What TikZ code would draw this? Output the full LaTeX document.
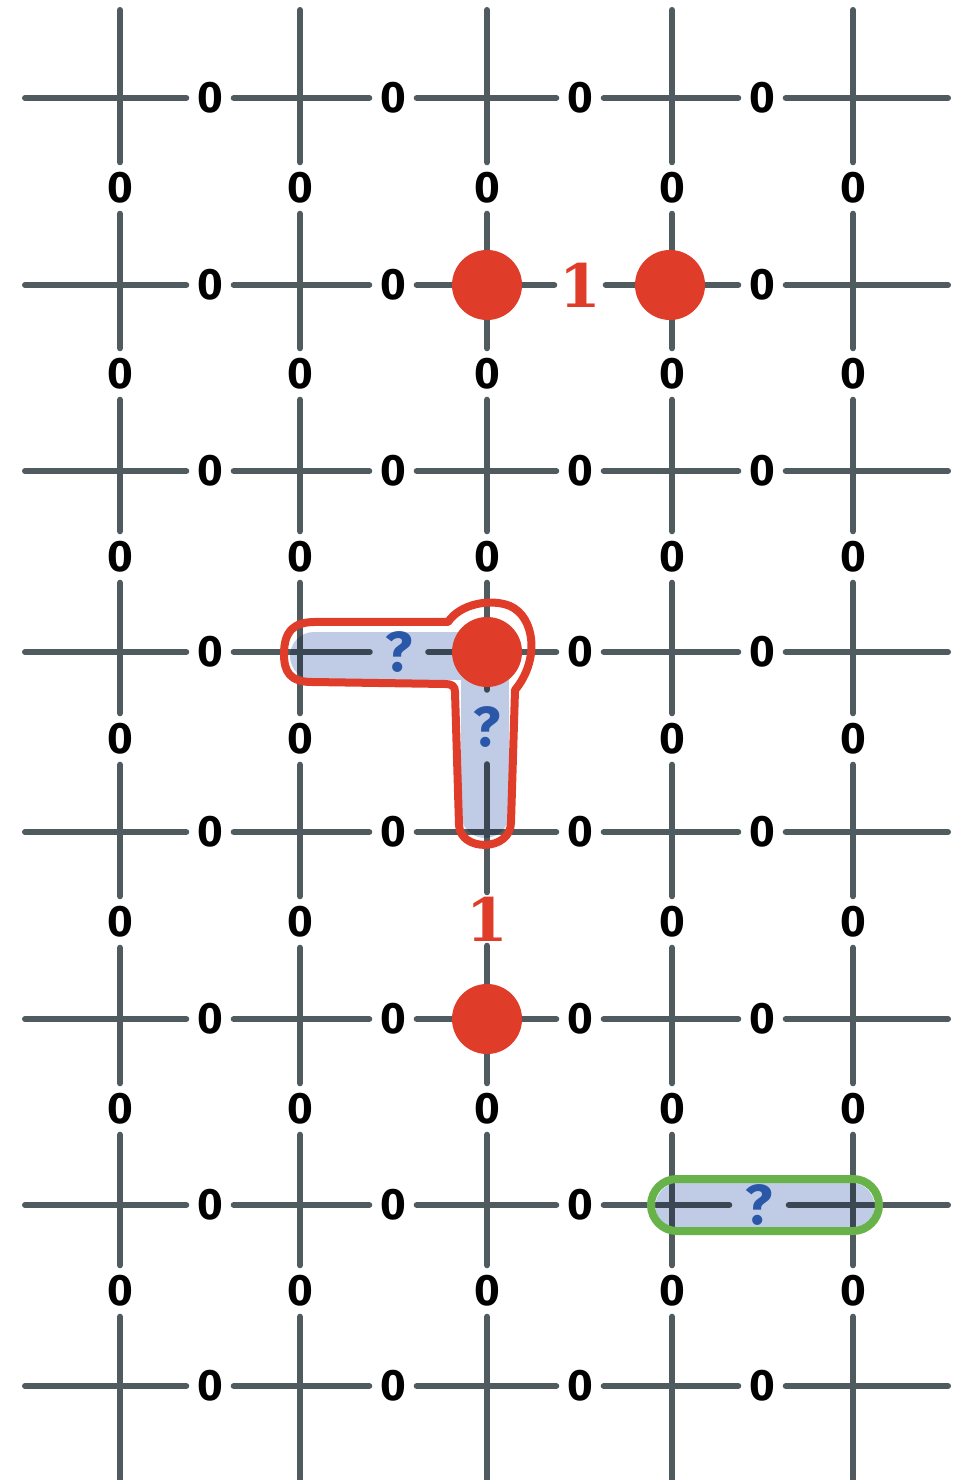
\documentclass[tikz,border=0pt]{standalone}
\usepackage{fontspec}
\setsansfont{Fira Sans}
\newfontfamily\onefont{DejaVu Serif}
\pgfdeclarelayer{hl}
\pgfdeclarelayer{top}
\pgfsetlayers{main,hl,top}
\definecolor{gridc}{HTML}{4F5B5E}
\definecolor{redc}{HTML}{E03C2A}
\definecolor{greenc}{HTML}{68B24A}
\definecolor{hlc}{HTML}{C0CCE6}
\definecolor{qc}{HTML}{2A57A8}
\expandafter\def\csname skiph-3-2\endcsname{}
\expandafter\def\csname skiph-2-4\endcsname{}
\expandafter\def\csname skiph-4-7\endcsname{}
\expandafter\def\csname skipw-3-4\endcsname{}
\expandafter\def\csname skipw-3-5\endcsname{}
\tikzset{
  gridline/.style={draw=gridc, line width=0.06cm, line cap=round},
  zero/.style={inner sep=0pt, minimum width=0.46cm, minimum height=0.5cm,
    font=\sffamily\bfseries\fontsize{12.5}{13}\selectfont, text=black},
  one/.style={inner sep=0pt, minimum width=0.5cm, minimum height=0.52cm,
    font=\onefont\bfseries\fontsize{17}{18}\selectfont, text=redc},
  qm/.style={inner sep=0pt, font=\sffamily\bfseries\fontsize{16}{17}\selectfont, text=qc},
  dot/.style={circle, fill=redc, minimum size=0.70cm, inner sep=0pt},
  hlband/.style={draw=hlc, line cap=round, line join=round, blend mode=multiply},
  outline/.style={line width=0.08cm, line join=round},
}
\begin{document}
\begin{tikzpicture}[x=0.01cm, y=-0.01cm]
\useasboundingbox (0,0) rectangle (955,1480);

% vertices
\foreach \c/\x in {1/120,2/300,3/487,4/672,5/853}
  \foreach \r/\y in {1/98,2/285,3/471,4/652,5/832,6/1019,7/1205,8/1386}
    \coordinate (v-\c-\r) at (\x,\y);

% zero labels on horizontal edges
\foreach \c/\x in {1/210,2/393,3/580,4/762}
  \foreach \r/\y in {1/98,2/285,3/471,4/652,5/832,6/1019,7/1205,8/1386}{
    \ifcsname skiph-\c-\r\endcsname\else
      \node[zero] (h-\c-\r) at (\x,\y) {0};
    \fi
  }
% zero labels on vertical edges
\foreach \c/\x in {1/120,2/300,3/487,4/672,5/853}
  \foreach \r/\y in {1/188,2/374,3/557,4/739,5/922,6/1109,7/1291}{
    \ifcsname skipw-\c-\r\endcsname\else
      \node[zero] (w-\c-\r) at (\x,\y) {0};
    \fi
  }

% special labels
\node[one] (h-3-2) at (580,285) {1};
\node[one] (w-3-5) at (487,919) {1};
\begin{pgfonlayer}{top}
\node[qm, minimum width=0.57cm, minimum height=0.5cm] (h-2-4) at (399,652) {?};
\node[qm, minimum width=0.5cm, minimum height=0.73cm] (w-3-4) at (487,727) {?};
\node[qm, minimum width=0.58cm, minimum height=0.5cm] (h-4-7) at (759,1205) {?};
\end{pgfonlayer}

% horizontal grid lines
\foreach \r/\y in {1/98,2/285,3/471,4/652,5/832,6/1019,7/1205,8/1386}{
  \coordinate (L-\r) at (25,\y);
  \coordinate (R-\r) at (948,\y);
  \draw[gridline] (L-\r) -- (v-1-\r);
  \draw[gridline] (v-5-\r) -- (R-\r);
  \foreach \c in {1,...,4}{
    \pgfmathtruncatemacro\cn{\c+1}
    \draw[gridline] (v-\c-\r) -- (h-\c-\r);
    \draw[gridline] (h-\c-\r) -- (v-\cn-\r);
  }
}
% vertical grid lines
\foreach \c/\x in {1/120,2/300,3/487,4/672,5/853}{
  \coordinate (T-\c) at (\x,10);
  \coordinate (B-\c) at (\x,1490);
  \draw[gridline] (T-\c) -- (v-\c-1);
  \draw[gridline] (v-\c-8) -- (B-\c);
  \foreach \r in {1,...,7}{
    \pgfmathtruncatemacro\rn{\r+1}
    \draw[gridline] (v-\c-\r) -- (w-\c-\r);
    \draw[gridline] (w-\c-\r) -- (v-\c-\rn);
  }
}

% highlights
\begin{pgfonlayer}{hl}
\coordinate (hA) at (314,656);
\coordinate (hB) at (485,656);
\coordinate (hC) at (485,814);
\coordinate (gA) at (678,1206);
\coordinate (gB) at (852,1206);
\draw[hlband, line width=0.48cm] (hA) -- (hB) -- (hC);
\draw[hlband, line width=0.45cm] (gA) -- (gB);
\end{pgfonlayer}

\begin{pgfonlayer}{top}
% red outline around L
\draw[outline, draw=redc]
  (284,654) .. controls (284,630) and (295,622) .. (315,622)
  -- (448,622)
  .. controls (460,604) and (490,598) .. (510,606)
  .. controls (535,617) and (540,660) .. (515,690)
  -- (511,822)
  .. controls (511,852) and (460,852) .. (459,825)
  -- (455,692)
  .. controls (455,686) and (452,684) .. (445,684)
  -- (312,682)
  .. controls (290,682) and (284,672) .. (284,654) -- cycle;
% green outline
\draw[outline, draw=greenc, rounded corners=0.26cm] (651,1179) rectangle (879,1231);
% red dots
\node[dot] (d1) at (487,285) {};
\node[dot] (d2) at (670,285) {};
\node[dot] (d3) at (487,652) {};
\node[dot] (d4) at (487,1019) {};
\end{pgfonlayer}
\end{tikzpicture}
\end{document}
